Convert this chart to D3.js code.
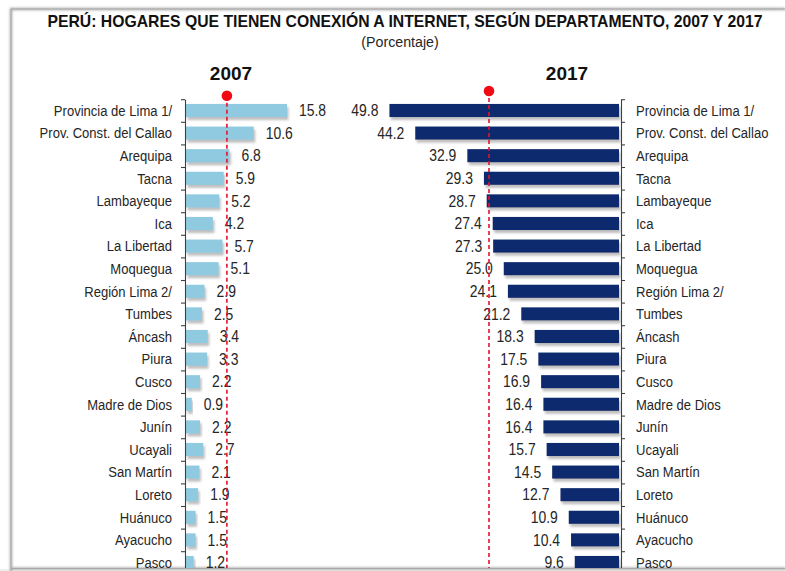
<!DOCTYPE html>
<html>
<head>
<meta charset="utf-8">
<script src="https://cdn.jsdelivr.net/npm/d3@7"></script>
<style>
  body { margin: 0; background: #fff; }
  text { font-family: "Liberation Sans", Arial, sans-serif; fill: #262626; }
</style>
</head>
<body>
<svg id="chart" width="785" height="571"></svg>
<script>
// Hogares con conexión a Internet por departamento (%)
const departments = [
  "Provincia de Lima 1/", "Prov. Const. del Callao", "Arequipa", "Tacna", "Lambayeque",
  "Ica", "La Libertad", "Moquegua", "Región Lima 2/", "Tumbes", "Áncash", "Piura",
  "Cusco", "Madre de Dios", "Junín", "Ucayali", "San Martín", "Loreto", "Huánuco",
  "Ayacucho", "Pasco"
];
const values2007 = [15.8, 10.6, 6.8, 5.9, 5.2, 4.2, 5.7, 5.1, 2.9, 2.5, 3.4, 3.3, 2.2, 0.9, 2.2, 2.7, 2.1, 1.9, 1.5, 1.5, 1.2];
const values2017 = [49.8, 44.2, 32.9, 29.3, 28.7, 27.4, 27.3, 25.0, 24.1, 21.2, 18.3, 17.5, 16.9, 16.4, 16.4, 15.7, 14.5, 12.7, 10.9, 10.4, 9.6];
const nationalAverage = [6.4, 28.2];
const yearLabels = ["2007", "2017"];
const titleText = "PERÚ: HOGARES QUE TIENEN CONEXIÓN A INTERNET, SEGÚN DEPARTAMENTO, 2007 Y 2017";
const subtitleText = "(Porcentaje)";

const svg = d3.select("#chart");
const W = 785, H = 571;

// condensed text: horizontally squeezed around its anchor point
function narrowText(parent, x, y, str, opts = {}) {
  const g = parent.append("g")
    .attr("transform", `translate(${x},${y}) scale(${opts.sx ?? 0.87},1)`);
  const t = g.append("text")
    .attr("text-anchor", opts.anchor ?? "start")
    .attr("dy", opts.dy ?? "0.35em")
    .style("font-size", (opts.size ?? 15) + "px")
    .text(str);
  if (opts.bold) t.style("font-weight", "bold");
  if (opts.fill) t.style("fill", opts.fill);
  return g;
}

// page frame
svg.append("rect").attr("x", 0).attr("y", 569).attr("width", W).attr("height", H - 569).attr("fill", "#eeeeee");
const defs = svg.append("defs");
const sh = defs.append("filter").attr("id", "barShadow").attr("x", "-10%").attr("y", "-30%").attr("width", "130%").attr("height", "180%");
sh.append("feDropShadow").attr("dx", 1.5).attr("dy", 3).attr("stdDeviation", 0.9)
  .attr("flood-color", "#8a8a8a").attr("flood-opacity", 0.55);
const fr = defs.append("filter").attr("id", "frameShadow").attr("x", "-50%").attr("y", "-50%").attr("width", "200%").attr("height", "200%");
fr.append("feGaussianBlur").attr("stdDeviation", 1.2);
defs.append("clipPath").attr("id", "plotClip").append("rect").attr("x", 12).attr("y", 10).attr("width", W).attr("height", 558);

const frame = svg.append("g");
frame.append("path").attr("d", `M11,571 V9 H785 M11,568.5 H785`).attr("fill", "none")
  .attr("stroke", "#b0b0b0").attr("stroke-width", 2.5).attr("filter", "url(#frameShadow)");
frame.append("path").attr("d", `M11,571 V9 H785 M11,568.5 H785`).attr("fill", "none")
  .attr("stroke", "#a8a8a8").attr("stroke-width", 1);

// titles
narrowText(svg, 405, 27, titleText, { anchor: "middle", dy: 0, size: 16.5, bold: true, sx: 0.955, fill: "#111" });
narrowText(svg, 400, 47, subtitleText, { anchor: "middle", dy: 0, size: 15, sx: 0.95 });
narrowText(svg, 231, 80, yearLabels[0], { anchor: "middle", dy: 0, size: 19, bold: true, sx: 1, fill: "#111" });
narrowText(svg, 567, 80, yearLabels[1], { anchor: "middle", dy: 0, size: 19, bold: true, sx: 1, fill: "#111" });

const plot = svg.append("g").attr("clip-path", "url(#plotClip)");

// shared rows
const rowStep = 22.6, rowTop = 99.2, n = departments.length;
const y = d3.scaleBand().domain(departments).range([rowTop, rowTop + n * rowStep]).paddingInner(0.42).paddingOuter(0.21);
const rowEdges = d3.scaleLinear().domain([0, n]).range([rowTop, rowTop + n * rowStep]);
const mid = d => y(d) + y.bandwidth() / 2;

// left panel (2007)
const x07 = d3.scaleLinear().domain([0, 16]).range([186, 186 + 16 * 6.39]);
// right panel (2017), bars grow leftwards
const x17 = d3.scaleLinear().domain([0, 50]).range([619, 619 - 50 * 4.61]);

const rows07 = departments.map((d, i) => ({ d, v: values2007[i] }));
const rows17 = departments.map((d, i) => ({ d, v: values2017[i] }));

plot.append("g").selectAll("rect").data(rows07).join("rect")
  .attr("x", x07(0)).attr("y", r => y(r.d))
  .attr("width", r => x07(r.v) - x07(0)).attr("height", y.bandwidth())
  .attr("fill", "#8fcae0").attr("filter", "url(#barShadow)");

plot.append("g").selectAll("rect").data(rows17).join("rect")
  .attr("x", r => x17(r.v)).attr("y", r => y(r.d))
  .attr("width", r => x17(0) - x17(r.v)).attr("height", y.bandwidth())
  .attr("fill", "#0e2a6e").attr("filter", "url(#barShadow)");

// axes with ticks on row boundaries
const axisL = d3.axisLeft(rowEdges).tickValues(d3.range(n + 1)).tickFormat("").tickSize(4).tickSizeOuter(0);
const axisR = d3.axisRight(rowEdges).tickValues(d3.range(n + 1)).tickFormat("").tickSize(4).tickSizeOuter(0);
const gL = plot.append("g").attr("transform", "translate(185,0)").call(axisL);
const gR = plot.append("g").attr("transform", "translate(621,0)").call(axisR);
[gL, gR].forEach(g => {
  g.selectAll("path, line").attr("stroke", "#404040").attr("stroke-width", 1.1);
});

// category labels
const catL = plot.append("g"), catR = plot.append("g");
departments.forEach(d => {
  narrowText(catL, 172, mid(d), d, { anchor: "end" });
  narrowText(catR, 636, mid(d), d, { anchor: "start" });
});

// value labels
const valL = plot.append("g"), valR = plot.append("g");
rows07.forEach(r => narrowText(valL, x07(r.v) + 12, mid(r.d), r.v.toFixed(1), { size: 16 }));
rows17.forEach(r => narrowText(valR, x17(r.v) - 11, mid(r.d), r.v.toFixed(1), { size: 16, anchor: "end" }));

// national average reference lines
const refs = [
  { x: x07(nationalAverage[0]), dotY: 95.7 },
  { x: x17(nationalAverage[1]), dotY: 91 }
];
refs.forEach(r => {
  plot.append("line").attr("x1", r.x).attr("x2", r.x).attr("y1", r.dotY).attr("y2", H)
    .attr("stroke", "#e0142e").attr("stroke-width", 1.6).attr("stroke-dasharray", "4,3");
  plot.append("circle").attr("cx", r.x).attr("cy", r.dotY).attr("r", 5.3).attr("fill", "#f00a14");
});
</script>
</body>
</html>
